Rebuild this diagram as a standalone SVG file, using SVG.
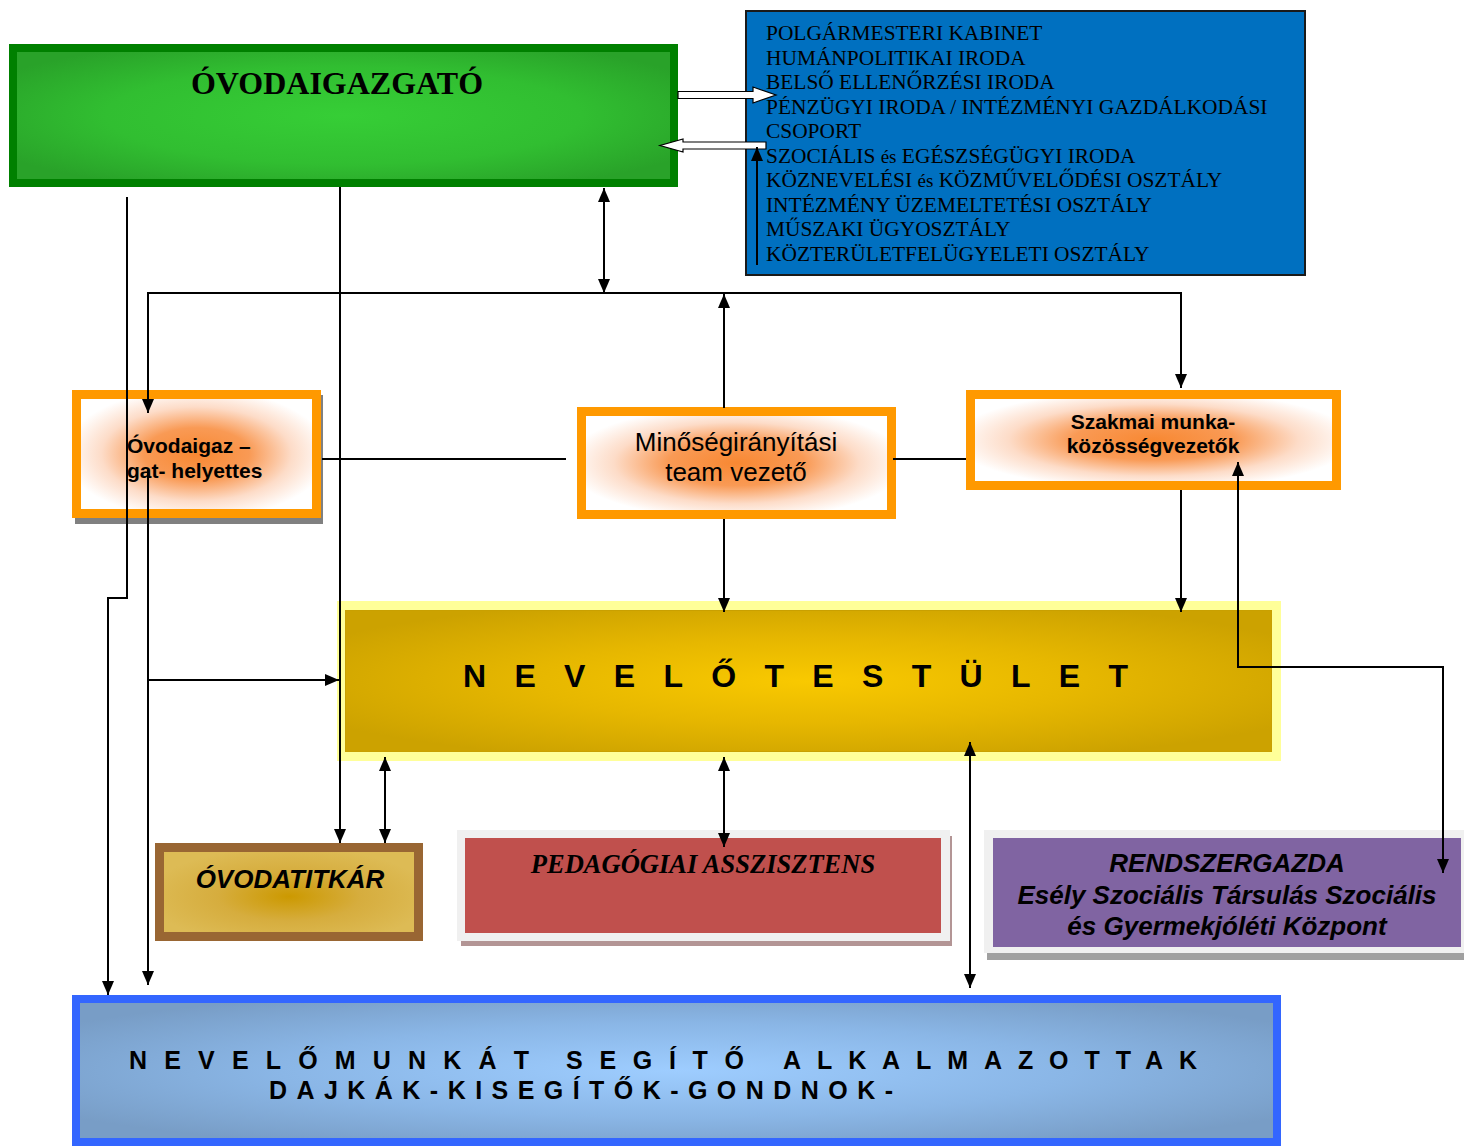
<svg xmlns="http://www.w3.org/2000/svg" width="1464" height="1146" viewBox="0 0 1464 1146">
<style>
.ln{fill:none;stroke:#000;stroke-width:2}
.sans{font-family:"Liberation Sans",Arial,sans-serif}
.serif{font-family:"Liberation Serif","Times New Roman",serif}
.blue text{font-family:"Liberation Serif","Times New Roman",serif;font-size:21.4px;fill:#000}
.hollow{fill:#fff;stroke:#000;stroke-width:1.2}
</style>
<defs>
<marker id="ah" viewBox="0 0 14 12" refX="14" refY="6" markerWidth="14" markerHeight="12" orient="auto-start-reverse" markerUnits="userSpaceOnUse">
<path d="M0,0 L14,6 L0,12 z" fill="#000"/>
</marker>
<radialGradient id="gGreen" cx="0.5" cy="0.5" r="0.6">
<stop offset="0" stop-color="#36CE36"/><stop offset="0.6" stop-color="#31BE31"/><stop offset="1" stop-color="#29A229"/>
</radialGradient>
<radialGradient id="gOrange" cx="0.5" cy="0.5" r="0.55">
<stop offset="0" stop-color="#F88832"/><stop offset="0.4" stop-color="#F99A55"/><stop offset="0.72" stop-color="#FDDCC8"/><stop offset="1" stop-color="#FFFFFF"/>
</radialGradient>
<radialGradient id="gGold" cx="0.5" cy="0.5" r="0.6">
<stop offset="0" stop-color="#F9C900"/><stop offset="0.5" stop-color="#E6B700"/><stop offset="1" stop-color="#CCA200"/>
</radialGradient>
<radialGradient id="gTitkar" cx="0.5" cy="0.55" r="0.55">
<stop offset="0" stop-color="#CC9900"/><stop offset="0.5" stop-color="#D6AD3E"/><stop offset="1" stop-color="#DDBB55"/>
</radialGradient>
<radialGradient id="gBlue" cx="0.5" cy="0.5" r="0.6">
<stop offset="0" stop-color="#9ECDFF"/><stop offset="0.55" stop-color="#8AB6E6"/><stop offset="1" stop-color="#789DC6"/>
</radialGradient>
</defs>

<g id="ovodaigazgato">
<rect x="13" y="48" width="661" height="135" fill="url(#gGreen)" stroke="#008000" stroke-width="8"/>
<text x="337" y="94" text-anchor="middle" class="serif" font-size="32" font-weight="bold">ÓVODAIGAZGATÓ</text>
</g>

<g id="hivatal" class="blue">
<rect x="746" y="11" width="559" height="264" fill="#0070C0" stroke="#1a1a1a" stroke-width="2"/>
<text x="766" y="40">POLGÁRMESTERI KABINET</text>
<text x="766" y="65">HUMÁNPOLITIKAI IRODA</text>
<text x="766" y="89">BELSŐ ELLENŐRZÉSI IRODA</text>
<text x="766" y="114">PÉNZÜGYI IRODA / INTÉZMÉNYI GAZDÁLKODÁSI</text>
<text x="766" y="138">CSOPORT</text>
<text x="766" y="163">SZOCIÁLIS <tspan font-size="19">és</tspan> EGÉSZSÉGÜGYI IRODA</text>
<text x="766" y="187">KÖZNEVELÉSI <tspan font-size="19">és</tspan> KÖZMŰVELŐDÉSI OSZTÁLY</text>
<text x="766" y="212">INTÉZMÉNY ÜZEMELTETÉSI OSZTÁLY</text>
<text x="766" y="236">MŰSZAKI ÜGYOSZTÁLY</text>
<text x="766" y="261">KÖZTERÜLETFELÜGYELETI OSZTÁLY</text>
</g>

<g id="helyettes">
<rect x="75" y="395" width="248" height="129" fill="#808080"/>
<rect x="76.5" y="394.5" width="240" height="119" fill="url(#gOrange)" stroke="#FF9900" stroke-width="9"/>
<text class="sans" font-size="21" font-weight="bold" fill="#000"><tspan x="127" y="453">Óvodaigaz –</tspan><tspan x="127" y="478">gat- helyettes</tspan></text>
</g>

<g id="minoseg">
<rect x="581.5" y="411.5" width="310" height="103" fill="url(#gOrange)" stroke="#FF9900" stroke-width="9"/>
<text class="sans" font-size="26" text-anchor="middle" fill="#000"><tspan x="736" y="451">Minőségirányítási</tspan><tspan x="736" y="481">team vezető</tspan></text>
</g>

<g id="szakmai">
<rect x="970.5" y="394.5" width="366" height="91" fill="url(#gOrange)" stroke="#FF9900" stroke-width="9"/>
<text class="sans" font-size="21" font-weight="bold" text-anchor="middle" fill="#000"><tspan x="1153" y="429">Szakmai munka-</tspan><tspan x="1153" y="453">közösségvezetők</tspan></text>
</g>

<g id="nevelotestulet">
<rect x="337" y="601" width="944" height="160" fill="#FFFF99"/>
<rect x="345.5" y="610.5" width="926" height="141" fill="url(#gGold)" stroke="#C9A000" stroke-width="1"/>
<text x="463" y="687" class="sans" font-size="32" font-weight="bold" textLength="665" lengthAdjust="spacing">NEVELŐTESTÜLET</text>
</g>

<g id="titkar">
<rect x="159.5" y="847.5" width="259" height="89" fill="url(#gTitkar)" stroke="#996633" stroke-width="9"/>
<text x="290" y="888" text-anchor="middle" class="sans" font-size="26" font-weight="bold" font-style="italic">ÓVODATITKÁR</text>
</g>

<g id="asszisztens">
<rect x="461" y="836" width="491" height="110" fill="#B39595"/>
<rect x="457" y="830" width="493" height="111" fill="#F0F0F0"/>
<rect x="465" y="838" width="476" height="95" fill="#C0504D"/>
<text x="703" y="873" text-anchor="middle" class="serif" font-size="26.5" font-weight="bold" font-style="italic">PEDAGÓGIAI ASSZISZTENS</text>
</g>

<g id="rendszergazda">
<rect x="987" y="836" width="477" height="124" fill="#A0A0A0"/>
<rect x="984" y="830" width="480" height="123" fill="#F0F0F0"/>
<rect x="993" y="838" width="468" height="109" fill="#8064A2"/>
<text class="sans" font-size="26" font-weight="bold" font-style="italic" text-anchor="middle" fill="#000"><tspan x="1227" y="872">RENDSZERGAZDA</tspan><tspan x="1227" y="904">Esély Szociális Társulás Szociális</tspan><tspan x="1227" y="935">és Gyermekjóléti Központ</tspan></text>
</g>

<g id="alkalmazottak">
<rect x="76" y="999" width="1201" height="143" fill="url(#gBlue)" stroke="#3366FF" stroke-width="8"/>
<g class="sans" font-size="25" font-weight="bold" fill="#000">
<text x="129" y="1069" textLength="400" lengthAdjust="spacing">NEVELŐMUNKÁT</text>
<text x="566" y="1069" textLength="178" lengthAdjust="spacing">SEGÍTŐ</text>
<text x="783" y="1069" textLength="414" lengthAdjust="spacing">ALKALMAZOTTAK</text>
<text x="269" y="1099" textLength="624" lengthAdjust="spacing">DAJKÁK-KISEGÍTŐK-GONDNOK-</text>
</g>
</g>

<g id="connectors">
<polygon class="hollow" points="678,91.5 753,91.5 753,87 776,95 753,103 753,98.5 678,98.5"/>
<polygon class="hollow" points="766,142 683,142 683,139 660,145.5 683,152 683,149 766,149"/>
<path class="ln" d="M757,265 V147" marker-end="url(#ah)"/>
<path class="ln" d="M127,197 V598 H108 V995" marker-end="url(#ah)"/>
<path class="ln" d="M148,413 V293 H1181 V388" marker-start="url(#ah)" marker-end="url(#ah)"/>
<path class="ln" d="M148,470 V985" marker-end="url(#ah)"/>
<path class="ln" d="M148,680 H339" marker-end="url(#ah)"/>
<path class="ln" d="M340,187 V843" marker-end="url(#ah)"/>
<path class="ln" d="M385,757 V843" marker-start="url(#ah)" marker-end="url(#ah)"/>
<path class="ln" d="M604,188 V293" marker-start="url(#ah)" marker-end="url(#ah)"/>
<path class="ln" d="M724,408 V294" marker-end="url(#ah)"/>
<path class="ln" d="M322,459 H566"/>
<path class="ln" d="M893,459 H966"/>
<path class="ln" d="M724,519 V612" marker-end="url(#ah)"/>
<path class="ln" d="M1181,490 V612" marker-end="url(#ah)"/>
<path class="ln" d="M1238,462 V667 H1443 V873" marker-start="url(#ah)" marker-end="url(#ah)"/>
<path class="ln" d="M724,757 V847" marker-start="url(#ah)" marker-end="url(#ah)"/>
<path class="ln" d="M970,742 V988" marker-start="url(#ah)" marker-end="url(#ah)"/>
</g>
</svg>
